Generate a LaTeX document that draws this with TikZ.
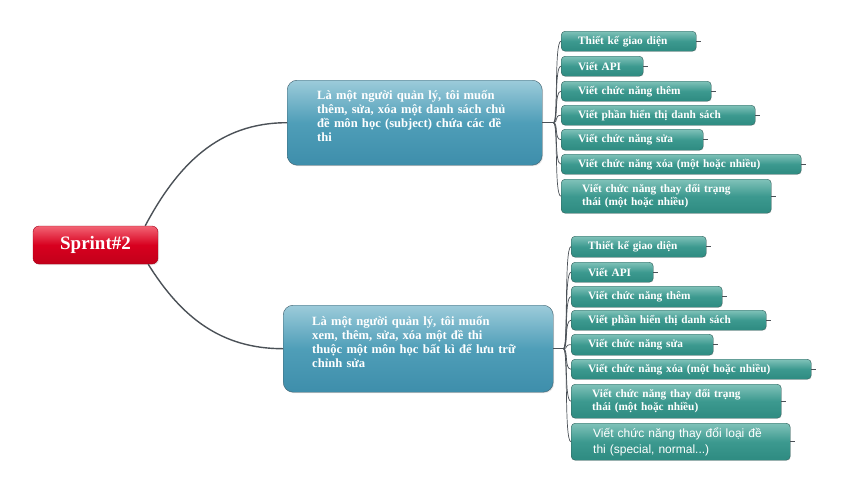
\documentclass[tikz,border=0pt]{standalone}
\usepackage{fontspec}
\setmainfont{Liberation Serif}
\newfontfamily\sansfam{Liberation Sans}
\usepackage{tikz}
\usetikzlibrary{shadows, positioning}
\definecolor{rootTop}{HTML}{F26474}
\definecolor{rootMid}{HTML}{D8001F}
\definecolor{rootBot}{HTML}{C2001A}
\definecolor{rootLine}{HTML}{A30018}
\definecolor{taskTop}{HTML}{9CCBDA}
\definecolor{taskMid}{HTML}{4F9EB8}
\definecolor{taskBot}{HTML}{3E8EAB}
\definecolor{taskLine}{HTML}{3E5F6D}
\definecolor{subTop}{HTML}{80C2B9}
\definecolor{subMid}{HTML}{3C998F}
\definecolor{subBot}{HTML}{2E8B81}
\definecolor{subLine}{HTML}{2F5F5A}
\definecolor{wire}{HTML}{4B5157}
\tikzstyle{root}=[rectangle, rounded corners=6pt, draw=rootLine, top color=rootTop, bottom color=rootBot, middle color=rootMid, text=white, font=\bfseries\fontsize{19}{21}\selectfont, minimum width=125pt, minimum height=38pt, drop shadow={opacity=0.2, shadow xshift=1pt, shadow yshift=-1pt}]
\tikzstyle{task}=[rectangle, rounded corners=10pt, draw=taskLine, top color=taskTop, bottom color=taskBot, middle color=taskMid, anchor=north west, drop shadow={opacity=0.2, shadow xshift=1pt, shadow yshift=-1pt}]
\tikzstyle{tasktext}=[anchor=base west, inner sep=0pt, align=left, text=white, font=\bfseries\fontsize{12.6}{14}\selectfont]
\tikzstyle{subtask}=[rectangle, rounded corners=4pt, draw=subLine, top color=subTop, bottom color=subBot, middle color=subMid, anchor=north west, inner xsep=17pt, inner ysep=0pt, align=left, text=white, minimum height=20pt, font=\bfseries\fontsize{11.3}{13.5}\selectfont, drop shadow={opacity=0.15, shadow xshift=0.7pt, shadow yshift=-0.7pt}]
\tikzstyle{trunk}=[draw=wire, line width=1.4pt]
\tikzstyle{branch}=[draw=wire, line width=0.7pt]

\begin{document}
\begin{tikzpicture}[x=1pt, y=-1pt]
    \useasboundingbox (0,0) rectangle (843,491);

    % Root:
    \node[root] (sprint) at (95.5,245) {Sprint\#2};

    % Stories:
    \node[task, minimum width=255pt, minimum height=85pt] (t1) at (287,80) {};
    \node[tasktext, text width=220pt] (t1txt) at ([shift={(30,19)}]t1.north west) {Là một người quản lý, tôi muốn\\thêm, sửa, xóa một danh sách chủ\\đề môn học (subject) chứa các đề\\thi};
    \node[task, minimum width=270pt, minimum height=87pt] (t2) at (283,305) {};
    \node[tasktext, text width=235pt] (t2txt) at ([shift={(29,20)}]t2.north west) {Là một người quản lý, tôi muốn\\xem, thêm, sửa, xóa một đề thi\\thuộc một môn học bất kì để lưu trữ\\chỉnh sửa};

    \draw[trunk] ([xshift=-13pt]sprint.north east) to[out=62, in=180] (t1.west);
    \draw[trunk] ([xshift=-10pt]sprint.south east) to[out=-58, in=180] (t2.west);

    % Tasks of story 1:
    \node[subtask, text width=101pt] (s11) at (561,31) {Thiết kế giao diện};
    \node[subtask, text width=48pt] (s12) at (561,56) {Viết API};
    \node[subtask, text width=116pt] (s13) at (561,81) {Viết chức năng thêm};
    \node[subtask, text width=160pt] (s14) at (561,105) {Viết phần hiển thị danh sách};
    \node[subtask, text width=108pt, minimum height=21pt] (s15) at (561,129) {Viết chức năng sửa};
    \node[subtask, text width=206pt] (s16) at (561,154) {Viết chức năng xóa (một hoặc nhiều)};
    \node[subtask, text width=168pt, inner xsep=21pt, minimum height=34pt] (s17) at (561,179) {Viết chức năng thay đổi trạng\\thái (một hoặc nhiều)};

    % Tasks of story 2:
    \node[subtask, text width=101pt, minimum height=21pt] (s21) at (571,236) {Thiết kế giao diện};
    \node[subtask, text width=48pt] (s22) at (571,262) {Viết API};
    \node[subtask, text width=117pt, minimum height=21pt] (s23) at (571,286) {Viết chức năng thêm};
    \node[subtask, text width=161pt] (s24) at (571,310) {Viết phần hiển thị danh sách};
    \node[subtask, text width=108pt, minimum height=21pt] (s25) at (571,334) {Viết chức năng sửa};
    \node[subtask, text width=206pt] (s26) at (571,359) {Viết chức năng xóa (một hoặc nhiều)};
    \node[subtask, text width=168pt, inner xsep=21pt, minimum height=34pt] (s27) at (571,384) {Viết chức năng thay đổi trạng\\thái (một hoặc nhiều)};
    \node[subtask, text width=175pt, inner xsep=22pt, minimum height=37pt, font=\sansfam\fontsize{12}{16}\selectfont] (s28) at (571,423) {Viết chức năng thay đổi loại đề\\thi (special, normal...)};

    % Branches:
    \coordinate (j1) at ([xshift=11pt]t1.east);
    \coordinate (j2) at ([xshift=10pt]t2.east);
    \draw[branch] (t1.east) -- (j1);
    \draw[branch] (t2.east) -- (j2);
    \foreach \s in {s11, s12, s13, s14, s15, s16, s17}
        \draw[branch] (j1) .. controls +(5,0) and +(-7,0) .. (\s.west);
    \foreach \s in {s21, s22, s23, s24, s25, s26, s27, s28}
        \draw[branch] (j2) .. controls +(5,0) and +(-7,0) .. (\s.west);
    \foreach \s in {s11, s12, s13, s14, s15, s16, s17, s21, s22, s23, s24, s25, s26, s27, s28}
        \draw[branch] (\s.east) -- ++(5,0);
\end{tikzpicture}
\end{document}
